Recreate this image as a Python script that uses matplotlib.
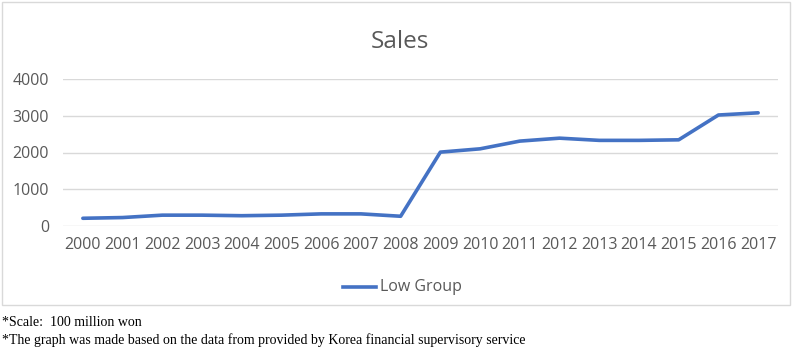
import matplotlib
matplotlib.use('Agg')
import matplotlib.pyplot as plt
from matplotlib.patches import Rectangle
from matplotlib.lines import Line2D

years = [str(y) for y in range(2000, 2018)]
low_group = [210, 230, 295, 295, 280, 295, 330, 330, 265,
             2010, 2100, 2310, 2390, 2330, 2330, 2345, 3020, 3080]
y_ticks = [0, 1000, 2000, 3000, 4000]

fig = plt.figure(figsize=(8, 3.51), dpi=100)
W, H = 800, 351

# chart border like an Excel chart box
fig.patches.append(Rectangle((2 / W, 1 - 305 / H), 788 / W, 303 / H,
                             transform=fig.transFigure, fill=False,
                             edgecolor='#D9D9D9', linewidth=1))

ax = fig.add_axes([63 / W, 1 - 226 / H, 715 / W, 147 / H])
x = range(len(years))
ax.plot(x, low_group, color='#4472C4', linewidth=2.6, solid_capstyle='round',
        label='Low Group')
ax.set_xlim(-0.5, len(years) - 0.5)
ax.set_ylim(0, 4000)
ax.set_yticks(y_ticks)
ax.set_xticks(list(x))
ax.set_xticklabels(years)
ax.grid(axis='y', color='#D9D9D9', linewidth=1)
ax.set_axisbelow(True)
for s in ax.spines.values():
    s.set_visible(False)
ax.tick_params(length=0, labelsize=11.5, labelcolor='#595959', pad=8)
ax.tick_params(axis='y', pad=10)
for lab in ax.get_xticklabels() + ax.get_yticklabels():
    lab.set_family('Open Sans')

fig.text(0.5, 1 - 42 / H, 'Sales', ha='center', va='center',
         fontsize=17.5, color='#595959', family='Open Sans')

# legend
fig.add_artist(Line2D([343 / W, 376 / W], [1 - 287 / H, 1 - 287 / H],
                      transform=fig.transFigure, color='#4472C4', linewidth=2.6))
fig.text(380 / W, 1 - 287 / H, 'Low Group', ha='left', va='center',
         fontsize=11.5, color='#595959', family='Open Sans')

# notes
fig.text(2 / W, 1 - 322 / H, '*Scale:  100 million won', ha='left', va='center',
         fontsize=10, family='Liberation Serif')
fig.text(2 / W, 1 - 340 / H,
         '*The graph was made based on the data from provided by Korea financial supervisory service',
         ha='left', va='center', fontsize=10, family='Liberation Serif')

fig.savefig('out.png', dpi=100)
